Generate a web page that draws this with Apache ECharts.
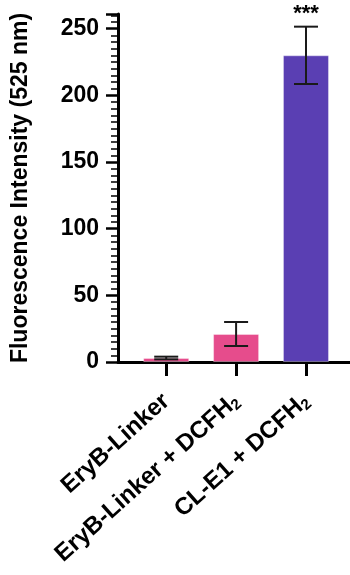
<!DOCTYPE html>
<html>
<head>
<meta charset="utf-8">
<script src="https://cdn.jsdelivr.net/npm/echarts@6/dist/echarts.min.js"></script>
<style>
  html, body { margin: 0; padding: 0; background: #fff; }
  #chart { width: 350px; height: 575px; }
</style>
</head>
<body>
<div id="chart"></div>
<script>
// data
const categories = ["EryB-Linker", "EryB-Linker + DCFH2", "CL-E1 + DCFH2"];
const means = [3, 21, 230];
const errors = [1, 9, 21.5];
const barColors = ["#E64C8C", "#E64C8C", "#5A3FB3"];
const significance = ["", "", "***"];
const yTicks = [0, 50, 100, 150, 200, 250];

const positions = categories.map((c, i) => i + 1);
const font = "'Liberation Sans', Arial, sans-serif";

const chartDom = document.getElementById("chart");
const myChart = echarts.init(chartDom);

// "DCFH2" -> subscript 2
const labelText = (name) => name.replace(/DCFH2$/, "DCFH{sub|2}");

const option = {
  animation: false,
  grid: {
    left: 118,
    right: 0,
    top: 14,
    bottom: 213,
    containLabel: false,
    outerBoundsMode: "none",
  },
  xAxis: {
    type: "value",
    min: 0.31,
    max: 3.63,
    splitLine: { show: false },
    axisLine: { show: true, lineStyle: { color: "#000", width: 3 } },
    axisTick: {
      show: true,
      customValues: positions,
      length: 14,
      lineStyle: { color: "#000", width: 3 },
    },
    axisLabel: {
      customValues: positions,
      rotate: 42,
      margin: 36,
      fontSize: 24,
      fontWeight: "bold",
      fontFamily: font,
      color: "#000",
      formatter: (v) => labelText(categories[Math.round(v) - 1]),
      rich: {
        sub: {
          fontSize: 15,
          fontWeight: "bold",
          fontFamily: font,
          color: "#000",
          verticalAlign: "bottom",
          padding: [11, 0, 0, 0],
        },
      },
    },
  },
  yAxis: {
    type: "value",
    min: 0,
    max: 261,
    interval: 50,
    name: "Fluorescence Intensity (525 nm)",
    nameLocation: "middle",
    nameGap: 86,
    nameTextStyle: {
      fontSize: 23,
      fontWeight: "bold",
      fontFamily: font,
      color: "#000",
    },
    splitLine: { show: false },
    axisLine: { show: true, lineStyle: { color: "#000", width: 3 } },
    axisTick: { show: true, length: 12, lineStyle: { color: "#000", width: 2.5 } },
    minorTick: { show: true, splitNumber: 10, length: 7, lineStyle: { color: "#000", width: 1.5 } },
    axisLabel: {
      margin: 19,
      fontSize: 23,
      fontWeight: "bold",
      fontFamily: font,
      color: "#000",
      customValues: yTicks,
    },
  },
  series: [
    {
      type: "bar",
      barWidth: 46,
      data: means.map((m, i) => ({
        value: [positions[i], m],
        itemStyle: { color: barColors[i], borderColor: "rgba(255,255,255,0.35)", borderWidth: 1 },
      })),
      z: 2,
    },
    {
      type: "custom",
      z: 3,
      data: means.map((m, i) => [positions[i], m - errors[i], m + errors[i], i]),
      renderItem: (params, api) => {
        const x = api.value(0);
        const lo = api.coord([x, api.value(1)]);
        const hi = api.coord([x, api.value(2)]);
        const cap = 12;
        const style = { stroke: "#1a1a1a", lineWidth: 2 };
        const children = [
          { type: "line", shape: { x1: lo[0], y1: lo[1], x2: hi[0], y2: hi[1] }, style },
          { type: "line", shape: { x1: hi[0] - cap, y1: hi[1], x2: hi[0] + cap, y2: hi[1] }, style },
          { type: "line", shape: { x1: lo[0] - cap, y1: lo[1], x2: lo[0] + cap, y2: lo[1] }, style },
        ];
        const star = significance[api.value(3)];
        if (star) {
          children.push({
            type: "text",
            style: {
              x: hi[0],
              y: hi[1] - 2,
              text: star,
              fill: "#000",
              font: "bold 22px " + font,
              align: "center",
              verticalAlign: "bottom",
            },
          });
        }
        return { type: "group", children };
      },
    },
  ],
};

myChart.setOption(option);
</script>
</body>
</html>
